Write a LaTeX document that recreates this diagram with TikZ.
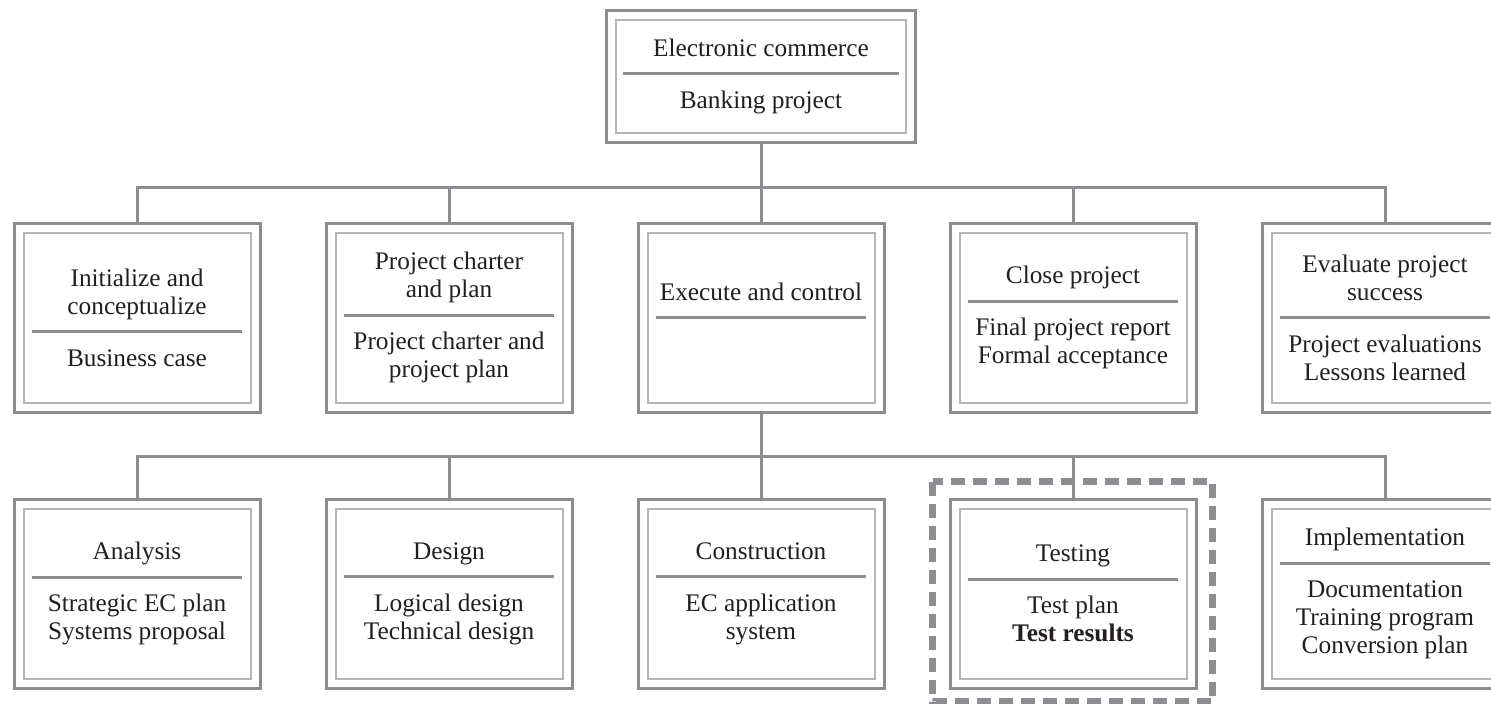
\documentclass[tikz,border=0pt]{standalone}
\usepackage{fontspec}
\setmainfont{Liberation Serif}
\usetikzlibrary{positioning}

\definecolor{framegray}{RGB}{140,141,145}
\definecolor{innergray}{RGB}{180,181,184}
\definecolor{inkblack}{RGB}{35,31,32}

\newcommand{\wbsrule}[1]{\textcolor{framegray}{\rule{#1}{3pt}}}

\begin{document}
\begin{tikzpicture}[x=1pt,y=-1pt,
    box/.style={draw=framegray, line width=3pt, fill=white, minimum width=246pt,
        minimum height=189pt, inner sep=0pt, align=center, text=inkblack,
        font=\fontsize{25.3}{28}\selectfont},
    topbox/.style={box, minimum width=309pt, minimum height=132pt},
    inner frame/.style={draw=innergray, line width=2pt},
    link/.style={draw=framegray, line width=3pt},
    highlight/.style={draw=framegray, line width=7pt, dash pattern=on 14pt off 8pt}]
    \useasboundingbox (0,0) rectangle (1491,704);

    % top of the tree
    \node[topbox] (top) at (761,76) {Electronic commerce\\[-9pt]\wbsrule{276pt}\\[5pt]Banking project};

    % phases
    \node[box] (init) at (137,317.5) {Initialize and\\conceptualize\\[-9pt]\wbsrule{210pt}\\[5pt]Business case};
    \node[box] (charter) at (449,317.5) {Project charter\\and plan\\[-9pt]\wbsrule{210pt}\\[5pt]Project charter and\\project plan};
    \node[box] (exec) at (761,317.5) {Execute and control\\[-9pt]\wbsrule{210pt}\\[5pt]\mbox{}};
    \node[box] (close) at (1073,317.5) {Close project\\[-9pt]\wbsrule{210pt}\\[5pt]Final project report\\Formal acceptance};
    \node[box] (evaluate) at (1385,317.5) {Evaluate project\\success\\[-9pt]\wbsrule{210pt}\\[5pt]Project evaluations\\Lessons learned};

    % work under execute and control
    \node[box] (analysis) at (137,593.5) {Analysis\\[-9pt]\wbsrule{210pt}\\[5pt]Strategic EC plan\\Systems proposal};
    \node[box] (design) at (449,593.5) {Design\\[-9pt]\wbsrule{210pt}\\[5pt]Logical design\\Technical design};
    \node[box] (construct) at (761,593.5) {Construction\\[-9pt]\wbsrule{210pt}\\[5pt]EC application\\system};
    \node[box] (test) at (1073,593.5) {Testing\\[-9pt]\wbsrule{210pt}\\[5pt]Test plan\\\textbf{Test results}};
    \node[box] (implement) at (1385,593.5) {Implementation\\[-9pt]\wbsrule{210pt}\\[5pt]Documentation\\Training program\\Conversion plan};

    \foreach \n in {top,init,charter,exec,close,evaluate,analysis,design,construct,test,implement}
        \draw[inner frame] ([shift={(11,11)}]\n.north west) rectangle ([shift={(-11,-11)}]\n.south east);

    % connectors
    \coordinate (bus1) at (761,187);
    \coordinate (bus2) at (761,456);
    \draw[link] (top.south) -- (bus1);
    \foreach \n in {init,charter,exec,close,evaluate}
        \draw[link] (bus1) -| (\n.north);
    \draw[link] (exec.south) -- (bus2);
    \foreach \n in {analysis,design,construct,test,implement}
        \draw[link] (bus2) -| (\n.north);

    \draw[highlight] ([shift={(-16,-16)}]test.north west) rectangle ([shift={(15,12)}]test.south east);
\end{tikzpicture}
\end{document}
